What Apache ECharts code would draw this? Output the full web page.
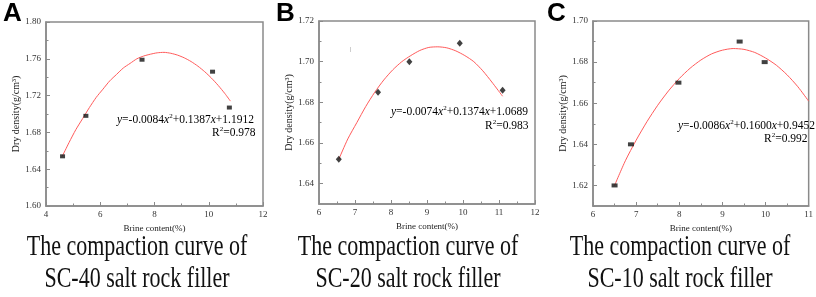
<!DOCTYPE html>
<html>
<head>
<meta charset="utf-8">
<script src="https://cdn.jsdelivr.net/npm/echarts@6/dist/echarts.min.js"></script>
<style>html,body{margin:0;padding:0;background:#fff}#c{width:816px;height:297px}</style>
</head>
<body>
<div id="c"></div>
<script>
// ---- Data ----
// Panel A: SC-40
const aBrine = [4.61, 5.47, 7.54, 10.14, 10.76];
const aDensity = [1.654, 1.698, 1.759, 1.746, 1.707];
const aFitX = [4.6, 4.85, 5.1, 5.35, 5.6, 5.85, 6.1, 6.35, 6.6, 6.85, 7.1, 7.35, 7.6, 7.85, 8.1, 8.35, 8.6, 8.85, 9.1, 9.35, 9.6, 9.85, 10.1, 10.35, 10.6, 10.8];
const aFitY = [1.654, 1.669, 1.683, 1.695, 1.707, 1.718, 1.727, 1.736, 1.743, 1.750, 1.755, 1.760, 1.763, 1.765, 1.7665, 1.767, 1.766, 1.764, 1.761, 1.757, 1.752, 1.746, 1.739, 1.731, 1.722, 1.714];
// Panel B: SC-20
const bBrine = [6.55, 7.64, 8.51, 9.91, 11.1];
const bDensity = [1.652, 1.685, 1.700, 1.709, 1.686];
const bFitX = [6.55, 6.8, 7.05, 7.3, 7.55, 7.8, 8.05, 8.3, 8.55, 8.8, 9.05, 9.3, 9.55, 9.8, 10.05, 10.3, 10.55, 10.8, 11.1];
const bFitY = [1.652, 1.662, 1.670, 1.678, 1.685, 1.691, 1.696, 1.700, 1.703, 1.7055, 1.707, 1.7073, 1.7068, 1.7053, 1.703, 1.700, 1.6955, 1.690, 1.683];
// Panel C: SC-10
const cBrine = [6.5, 6.88, 7.98, 9.40, 9.98];
const cDensity = [1.620, 1.640, 1.670, 1.690, 1.680];
const cFitX = [6.5, 6.75, 7.0, 7.25, 7.5, 7.75, 8.0, 8.25, 8.5, 8.75, 9.0, 9.25, 9.5, 9.75, 10.0, 10.25, 10.5, 10.75, 11.0];
const cFitY = [1.620, 1.632, 1.642, 1.651, 1.659, 1.666, 1.672, 1.677, 1.681, 1.684, 1.6858, 1.6866, 1.6862, 1.6847, 1.682, 1.6785, 1.6738, 1.668, 1.661];
// Tick labels
const bYTicks = [1.64, 1.66, 1.68, 1.70, 1.72];
const bYMinor = [1.65, 1.67, 1.69, 1.71];
const cYTicks = [1.62, 1.64, 1.66, 1.68, 1.70];
const cYMinor = [1.61, 1.63, 1.65, 1.67, 1.69];
// Text
const panelLetters = ['A', 'B', 'C'];
const captions = [
  ['The compaction curve of', 'SC-40 salt rock filler'],
  ['The compaction curve of', 'SC-20 salt rock filler'],
  ['The compaction curve of', 'SC-10 salt rock filler']
];
const equations = [
  ['-0.0084', '+0.1387', '+1.1912', '0.978'],
  ['-0.0074', '+0.1374', '+1.0689', '0.983'],
  ['-0.0086', '+0.1600', '+0.9452', '0.992']
];
const yName = 'Dry density(g/cm³)';
const xName = 'Brine content(%)';

// ---- Chart ----
const SERIF = '"Liberation Serif", "DejaVu Serif", serif';
const AX = '#8a8a8a';
const chart = echarts.init(document.getElementById('c'), null, {renderer: 'canvas'});

const grids = [
  {left: 46, top: 22, width: 217, height: 184},
  {left: 319, top: 21, width: 216, height: 183},
  {left: 593, top: 21, width: 217, height: 185}
].map(g => Object.assign({show: true, borderColor: AX, borderWidth: 1.5, backgroundColor: 'transparent'}, g));

const labelStyle = {fontFamily: SERIF, fontSize: 9, color: '#333'};
function xAxis(i, min, max, interval) {
  return {
    type: 'value', gridIndex: i, min, max, interval,
    name: xName, nameLocation: 'middle', nameGap: 13,
    nameTextStyle: {fontFamily: SERIF, fontSize: 9, color: '#222'},
    axisLine: {show: true, lineStyle: {color: AX, width: 1.5}},
    axisTick: {show: true, inside: true, length: 4, lineStyle: {color: AX}},
    minorTick: {show: true, splitNumber: 2, length: 2.5, lineStyle: {color: AX}},
    axisLabel: Object.assign({margin: 4, formatter: v => String(v)}, labelStyle),
    splitLine: {show: false}
  };
}
function yAxisBase(i, min, max) {
  return {
    type: 'value', gridIndex: i, min, max,
    name: yName, nameLocation: 'middle', nameGap: 25,
    nameTextStyle: {fontFamily: SERIF, fontSize: 10, color: '#222'},
    axisLine: {show: true, lineStyle: {color: AX, width: 1.5}},
    axisTick: {show: true, inside: true, length: 4, lineStyle: {color: AX}},
    axisLabel: Object.assign({margin: 5, formatter: v => v.toFixed(2)}, labelStyle),
    splitLine: {show: false}
  };
}
const yA = Object.assign(yAxisBase(0, 1.60, 1.80), {interval: 0.04,
  minorTick: {show: true, splitNumber: 2, length: 2.5, lineStyle: {color: AX}}});
const yB = yAxisBase(1, 1.63, 1.72);
yB.axisTick.customValues = bYTicks; yB.axisLabel.customValues = bYTicks;
const yC = yAxisBase(2, 1.61, 1.70);
yC.axisTick.customValues = cYTicks; yC.axisLabel.customValues = cYTicks;
function minorAxis(i, min, max, vals) {
  return {
    type: 'value', gridIndex: i, min, max, position: 'left',
    axisLine: {show: false}, axisLabel: {show: false}, splitLine: {show: false},
    axisTick: {show: true, inside: true, length: 2.5, customValues: vals, lineStyle: {color: AX}}
  };
}

function pts(xs, ys) { return xs.map((x, k) => [x, ys[k]]); }
const fitColor = '#ff5b5b';
function fit(i, xs, ys) {
  return {type: 'line', xAxisIndex: i, yAxisIndex: i, data: pts(xs, ys), smooth: 0.25,
    showSymbol: false, symbol: 'none', lineStyle: {color: fitColor, width: 1}, z: 2, silent: true};
}
function scat(i, xs, ys, symbol, size) {
  return {type: 'scatter', xAxisIndex: i, yAxisIndex: i, data: pts(xs, ys), symbol, symbolSize: size,
    itemStyle: {color: '#111'}, z: 3, silent: true};
}

function eqText(k, left, top, rLeft, rTop) {
  const e = equations[k];
  const rich = {
    i: {fontFamily: SERIF, fontSize: 11.5, fontStyle: 'italic', color: '#222'},
    n: {fontFamily: SERIF, fontSize: 11.5, color: '#222'},
    s: {fontFamily: SERIF, fontSize: 7, color: '#222', verticalAlign: 'top'}
  };
  return [
    {type: 'text', left, top, style: {
      text: '{i|y}{n|=' + e[0] + '}{i|x}{s|2}{n|' + e[1] + '}{i|x}{n|' + e[2] + '}',
      rich, lineHeight: 13}},
    {type: 'text', left: rLeft, top: rTop, style: {
      text: '{n|R}{s|2}{n|=' + e[3] + '}', rich, lineHeight: 13}}
  ];
}

const graphics = [];
const letterX = [3, 276, 547];
panelLetters.forEach((L, k) => graphics.push({type: 'text', left: letterX[k], top: 1,
  style: {text: L, fontFamily: '"Liberation Sans", Arial, sans-serif', fontWeight: 'bold', fontSize: 26, fill: '#000'}}));
graphics.push(...eqText(0, 117, 113, 212, 126));
graphics.push(...eqText(1, 391, 105, 485, 119));
graphics.push(...eqText(2, 678, 119, 764, 132));
const capCenters = [137, 408, 680];
captions.forEach((c, k) => {
  c.forEach((line, j) => graphics.push({type: 'text', x: capCenters[k], y: 247 + j * 32, scaleY: 1.3,
    style: {text: line, fontFamily: SERIF, fontSize: 22, fill: '#111', align: 'center', verticalAlign: 'middle'}}));
});
graphics.push({type: 'text', left: 350, top: 46, style: {text: '|', fontFamily: SERIF, fontSize: 7, fill: '#777'}});

chart.setOption({
  animation: false,
  backgroundColor: '#fff',
  grid: grids,
  xAxis: [xAxis(0, 4, 12, 2), xAxis(1, 6, 12, 1), xAxis(2, 6, 11, 1)],
  yAxis: [yA, yB, yC, minorAxis(1, 1.63, 1.72, bYMinor), minorAxis(2, 1.61, 1.70, cYMinor)],
  series: [
    fit(0, aFitX, aFitY), scat(0, aBrine, aDensity, 'rect', [5, 4]),
    fit(1, bFitX, bFitY), scat(1, bBrine, bDensity, 'diamond', [6, 7]),
    fit(2, cFitX, cFitY), scat(2, cBrine, cDensity, 'rect', [6, 4])
  ],
  graphic: graphics
});
</script>
</body>
</html>
